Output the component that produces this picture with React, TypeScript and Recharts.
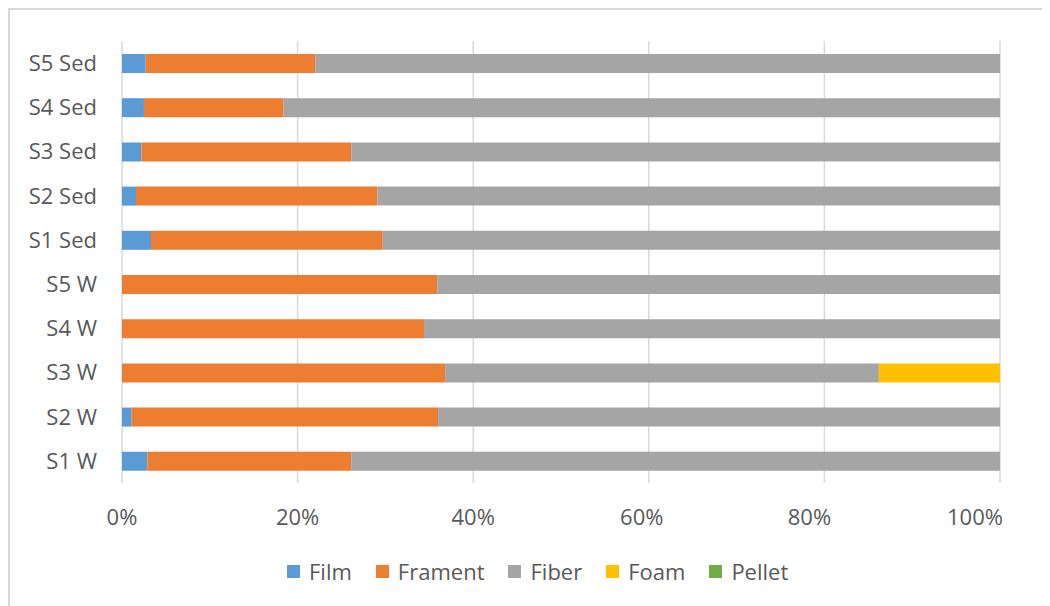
import { BarChart, Bar, XAxis, YAxis, CartesianGrid } from 'recharts'

const categories = ['S5 Sed', 'S4 Sed', 'S3 Sed', 'S2 Sed', 'S1 Sed', 'S5 W', 'S4 W', 'S3 W', 'S2 W', 'S1 W']
const film = [2.7, 2.5, 2.2, 1.6, 3.3, 0, 0, 0, 1.1, 2.9]
const frament = [19.3, 15.9, 23.9, 27.5, 26.4, 35.9, 34.4, 36.8, 34.9, 23.2]
const fiber = [78.0, 81.6, 73.9, 70.9, 70.3, 64.1, 65.6, 49.4, 64.0, 73.9]
const foam = [0, 0, 0, 0, 0, 0, 0, 13.8, 0, 0]
const pellet = [0, 0, 0, 0, 0, 0, 0, 0, 0, 0]
const xTicks = [0, 20, 40, 60, 80, 100]

const series = [
  { key: 'Film', color: '#5b9bd5' },
  { key: 'Frament', color: '#ed7d31' },
  { key: 'Fiber', color: '#a5a5a5' },
  { key: 'Foam', color: '#ffc000' },
  { key: 'Pellet', color: '#70ad47' },
]

const data = categories.map((name, i) => ({
  name,
  Film: film[i],
  Frament: frament[i],
  Fiber: fiber[i],
  Foam: foam[i],
  Pellet: pellet[i],
}))

const font = '"Open Sans", sans-serif'

// excel squeezes the right-hand labels inward a little
const labelShift = [0, 0, 0, -7, -15, -25]

function XTick(props: any) {
  const { x, y, payload, index } = props
  return (
    <text
      x={x + (labelShift[index] ?? 0)}
      y={y}
      dy="0.71em"
      textAnchor="middle"
      fill="#595959"
      fontSize={22}
      fontFamily={font}
    >
      {`${payload.value}%`}
    </text>
  )
}

export default function App() {
  return (
    <div style={{ position: 'relative', width: 1042, height: 598, fontFamily: font }}>
      <div
        style={{
          position: 'absolute',
          left: 0,
          top: 0,
          width: 1060,
          height: 620,
          borderTop: '2px solid #d9d9d9',
          borderLeft: '2px solid #d9d9d9',
          boxSizing: 'border-box',
        }}
      />
      <div style={{ position: 'absolute', left: 0, top: 0 }}>
        <BarChart
          width={1042}
          height={598}
          data={data}
          layout="vertical"
          margin={{ top: 33, right: 50, bottom: 0, left: 0 }}
          barSize={19}
        >
          <CartesianGrid horizontal={false} stroke="#d9d9d9" strokeWidth={1.5} />
          <XAxis
            type="number"
            domain={[0, 100]}
            ticks={xTicks}
            axisLine={false}
            tickLine={false}
            tickSize={0}
            tickMargin={26}
            height={123}
            tick={<XTick />}
            interval={0}
          />
          <YAxis
            type="category"
            dataKey="name"
            width={114}
            axisLine={false}
            tickLine={false}
            tickSize={0}
            tickMargin={25}
            tick={{ fill: '#595959', fontSize: 22, fontFamily: font }}
            interval={0}
          />
          {series.map((s) => (
            <Bar key={s.key} dataKey={s.key} stackId="a" fill={s.color} isAnimationActive={false} />
          ))}
        </BarChart>
      </div>
      <div
        style={{
          position: 'absolute',
          top: 548,
          left: 279,
          display: 'flex',
          alignItems: 'center',
          fontSize: 22,
          color: '#595959',
        }}
      >
        {series.map((s) => (
          <div key={s.key} style={{ display: 'flex', alignItems: 'center', marginRight: 24 }}>
            <div style={{ width: 13, height: 13, background: s.color, marginRight: 9 }} />
            <span>{s.key}</span>
          </div>
        ))}
      </div>
    </div>
  )
}
